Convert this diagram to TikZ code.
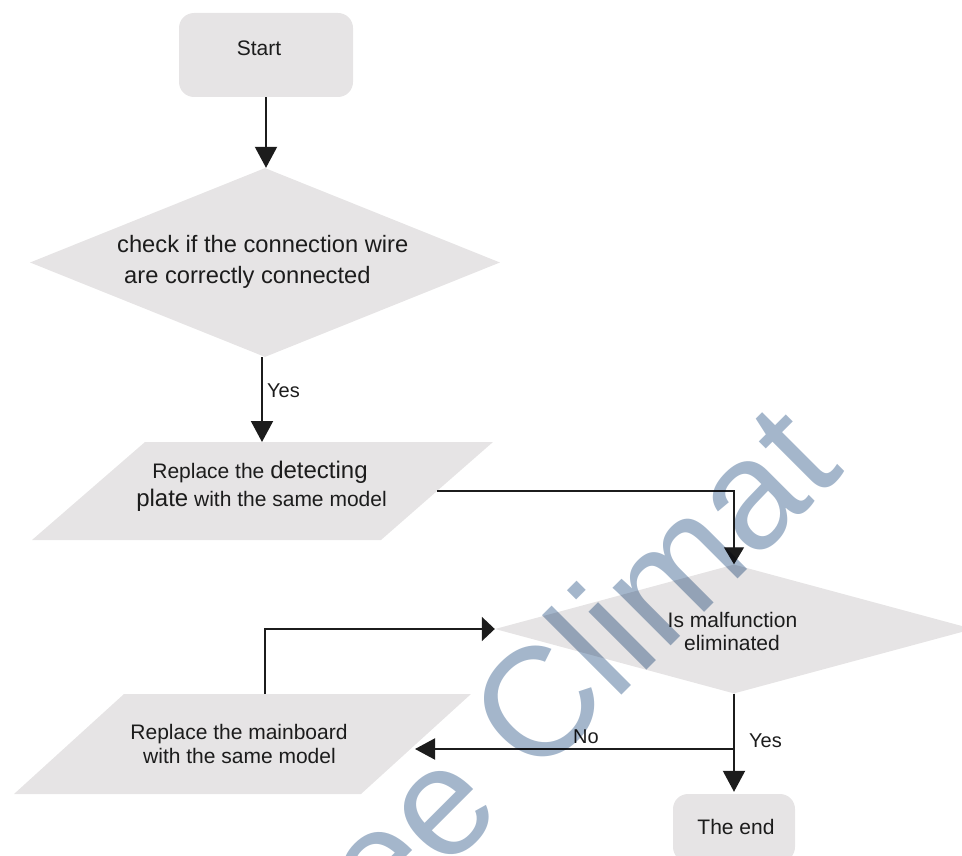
\documentclass[tikz,border=0pt]{standalone}
\usepackage{fontspec}
\setmainfont{Liberation Sans}
\usetikzlibrary{arrows.meta,shapes.geometric}
\definecolor{shapegray}{RGB}{230,228,229}
\definecolor{ink}{RGB}{28,28,28}
\definecolor{wm}{RGB}{164,182,203}
\tikzset{
  shapefill/.style={fill=shapegray, draw=none, inner sep=0pt},
  txt/.style={inner sep=0pt, anchor=base, text=ink, font=\fontsize{21}{25}\selectfont},
  bigtxt/.style={txt, anchor=base west, font=\fontsize{23.7}{28}\selectfont},
  lbl/.style={txt, anchor=base west, font=\fontsize{20}{24}\selectfont},
  conn/.style={draw=ink, line width=2pt},
  thinconn/.style={draw=ink, line width=1.3pt},
  headA/.style={-{Triangle[length=21pt,width=22pt]}}
}
\newcommand{\bigword}[1]{{\fontsize{24}{28}\selectfont #1}}
\begin{document}
\begin{tikzpicture}[x=1pt,y=-1pt]
\path[use as bounding box] (0,0) rectangle (962,856);
\clip (0,0) rectangle (962,856);

% shapes
\node[shapefill, rounded corners=15pt, minimum width=174pt, minimum height=84pt] (start) at (266,55) {};
\node[shapefill, diamond, minimum width=470pt, minimum height=189pt] (d1) at (265,262.5) {};
\fill[shapegray] (145,442) -- (493,442) -- (381,540) -- (32,540) -- cycle;
\coordinate (p1top) at (262,442);
\coordinate (p1east) at (437,491);
\node[shapefill, diamond, minimum width=478pt, minimum height=129pt] (d2) at (734,629) {};
\fill[shapegray] (124,694) -- (471,694) -- (361,794) -- (14,794) -- cycle;
\coordinate (p2top) at (265,694);
\coordinate (p2east) at (415,749);
\node[shapefill, rounded corners=15pt, minimum width=122pt, minimum height=68pt] (end) at (734,828) {};

% texts
\node[txt] (starttext) at (259,56) {Start};
\node[bigtxt] (d1a) at (117,252) {check if the connection wire};
\node[bigtxt] (d1b) at (124,283) {are correctly connected};
\node[txt] (p1a) at (260,478) {Replace the \bigword{detecting}};
\node[txt] (p1b) at (261.5,506) {\bigword{plate} with the same model};
\node[txt] (d2a) at (732.5,627) {Is malfunction};
\node[txt] (d2b) at (732,650) {eliminated};
\node[txt] (p2a) at (239,739) {Replace the mainboard};
\node[txt] (p2b) at (239.5,763) {with the same model};
\node[txt] (endtext) at (736,834) {The end};

% connectors
\draw[conn, headA] (start.south) -- (start.south |- d1.north);
\draw[conn, headA] (p1top |- d1.south) -- (p1top);
\node[lbl] (yes1) at (267,397) {Yes};
\draw[thinconn, -{Triangle[length=17pt,width=20pt]}] (p1east) -| (d2.north);
\draw[conn, -{Triangle[length=13pt,width=24pt]}] (p2top) |- (d2.west);
\draw[conn, headA, shorten >=2pt] (d2.south) -- (end.north);
\coordinate (branch) at (734,749);
\draw[conn, -{Triangle[length=20pt,width=21pt]}] (branch) -- (p2east);
\node[lbl] (no) at (573,743) {No};
\node[lbl] (yes2) at (749,747) {Yes};

% watermark
\begin{scope}[blend mode=multiply]
\node[rotate=45, anchor=base west, inner sep=0pt, text=wm, font=\fontsize{155}{155}\selectfont] (wmark) at (280,1037) {Free Climat};
\end{scope}
\end{tikzpicture}
\end{document}
